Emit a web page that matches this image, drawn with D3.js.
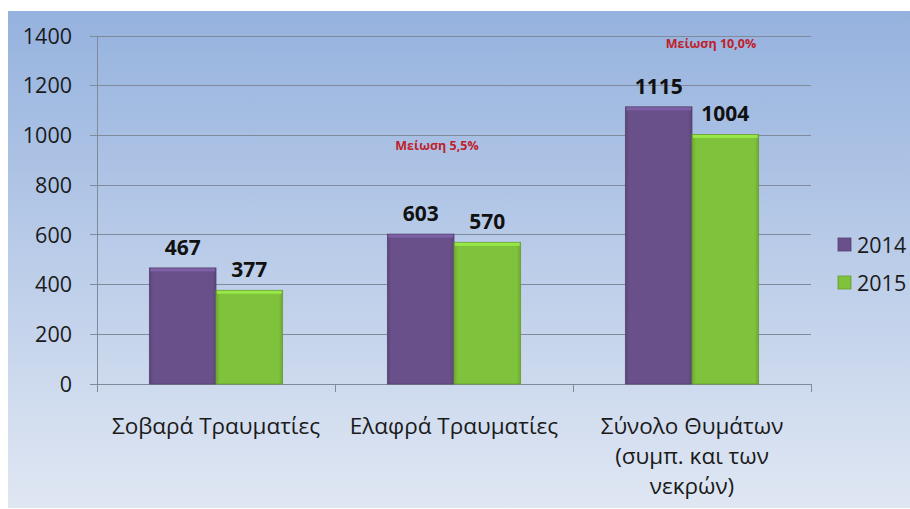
<!DOCTYPE html>
<html lang="el">
<head>
<meta charset="UTF-8">
<title>Τραυματίες 2014-2015</title>
<script src="https://d3js.org/d3.v7.min.js"></script>
<style>
  body { margin: 0; background: #fff; font-family: "Open Sans", "Noto Sans", sans-serif; }
</style>
</head>
<body>
<div id="chart"></div>
<script>
const categories = [["Σοβαρά Τραυματίες"], ["Ελαφρά Τραυματίες"], ["Σύνολο Θυμάτων", "(συμπ. και των", "νεκρών)"]];
const years = ["2014", "2015"];
const values2014 = [467, 603, 1115];
const values2015 = [377, 570, 1004];
const notes = [null, "Μείωση 5,5%", "Μείωση 10,0%"];
const noteValues = [null, 940, 1350];
const noteShift = [0, -17, 19];
const yTicks = [0, 200, 400, 600, 800, 1000, 1200, 1400];

const W = 910, H = 509;
const m = { left: 97, right: 811, top: 36, bottom: 384 };
const colors = ["#69508a", "#7fc23c"];

const svg = d3.select("#chart").append("svg").attr("width", W).attr("height", H);
const defs = svg.append("defs");

const bg = defs.append("linearGradient").attr("id", "bg").attr("x1", 0).attr("y1", 0).attr("x2", 0).attr("y2", 1);
bg.append("stop").attr("offset", "0%").attr("stop-color", "#95b2de");
bg.append("stop").attr("offset", "100%").attr("stop-color", "#e0e7f3");

// bar gradients, a little darker at the edges
colors.forEach((c, i) => {
  const g = defs.append("linearGradient").attr("id", "bar" + i).attr("x1", 0).attr("y1", 0).attr("x2", 1).attr("y2", 0);
  g.append("stop").attr("offset", "0%").attr("stop-color", d3.color(c).darker(0.4));
  g.append("stop").attr("offset", "6%").attr("stop-color", c);
  g.append("stop").attr("offset", "94%").attr("stop-color", c);
  g.append("stop").attr("offset", "100%").attr("stop-color", d3.color(c).darker(0.4));
});

svg.append("rect").attr("x", 8).attr("y", 11).attr("width", W - 8).attr("height", H - 12).attr("fill", "url(#bg)");

const y = d3.scaleLinear().domain([0, 1400]).range([m.bottom, m.top]);
const x = d3.scaleBand().domain(d3.range(categories.length)).range([m.left, m.right]).paddingInner(0).paddingOuter(0);
const bandPad = 0.22;
const xs = d3.scaleBand().domain([0, 1]).range([x.bandwidth() * bandPad, x.bandwidth() * (1 - bandPad)]);

// gridlines
svg.append("g").selectAll("line").data(yTicks).join("line")
  .attr("x1", m.left - 7).attr("x2", m.right)
  .attr("y1", d => y(d)).attr("y2", d => y(d))
  .attr("stroke", "#7f8a9c").attr("stroke-width", 1).attr("shape-rendering", "crispEdges");

// y axis line
svg.append("line").attr("x1", m.left).attr("x2", m.left).attr("y1", m.top).attr("y2", m.bottom + 8)
  .attr("stroke", "#7f8a9c").attr("shape-rendering", "crispEdges");

// category separators
svg.append("g").selectAll("line").data(d3.range(1, categories.length + 1)).join("line")
  .attr("x1", d => m.left + d * x.bandwidth()).attr("x2", d => m.left + d * x.bandwidth())
  .attr("y1", m.bottom).attr("y2", m.bottom + 8)
  .attr("stroke", "#7f8a9c").attr("shape-rendering", "crispEdges");

// y tick labels
svg.append("g").selectAll("text").data(yTicks).join("text")
  .attr("x", 72).attr("y", d => y(d)).attr("dy", "0.36em")
  .attr("text-anchor", "end").attr("font-size", 21.5).attr("fill", "#1a1a1a")
  .text(d => d);

// bars
const series = [values2014, values2015];
series.forEach((vals, si) => {
  const g = svg.append("g");
  g.selectAll("rect.bar").data(vals).join("rect").attr("class", "bar")
    .attr("x", (d, i) => x(i) + xs(si))
    .attr("y", d => y(d))
    .attr("width", xs.bandwidth())
    .attr("height", d => y(0) - y(d))
    .attr("fill", "url(#bar" + si + ")")
    .attr("stroke", d3.color(colors[si]).darker(0.6)).attr("stroke-width", 0.8);
  // light strip along the top of each bar
  g.selectAll("rect.top").data(vals).join("rect").attr("class", "top")
    .attr("x", (d, i) => x(i) + xs(si) + 1)
    .attr("y", d => y(d) + 0.5)
    .attr("width", xs.bandwidth() - 2)
    .attr("height", 3)
    .attr("fill", d3.color(colors[si]).brighter(0.5));
  g.selectAll("text").data(vals).join("text")
    .attr("x", (d, i) => x(i) + xs(si) + xs.bandwidth() / 2)
    .attr("y", d => y(d) - 13)
    .attr("text-anchor", "middle").attr("font-size", 21).attr("font-weight", "bold").attr("fill", "#111")
    .text(d => d);
});

// category labels
categories.forEach((lines, i) => {
  const cx = x(i) + x.bandwidth() / 2;
  const t = svg.append("text").attr("x", cx).attr("y", 434)
    .attr("text-anchor", "middle").attr("font-size", 22.5).attr("fill", "#1a1a1a");
  lines.forEach((l, j) => t.append("tspan").attr("x", cx).attr("dy", j ? 30 : 0).text(l));
});

// notes
notes.forEach((n, i) => {
  if (!n) return;
  svg.append("text").attr("x", x(i) + x.bandwidth() / 2 + noteShift[i]).attr("y", y(noteValues[i]))
    .attr("text-anchor", "middle").attr("font-size", 12.5).attr("font-weight", "bold").attr("fill", "#c0202a")
    .text(n);
});

// legend
years.forEach((yr, i) => {
  const ly = 245 + i * 38;
  svg.append("rect").attr("x", 838).attr("y", ly - 7).attr("width", 13).attr("height", 13)
    .attr("fill", "url(#bar" + i + ")").attr("stroke", d3.color(colors[i]).darker(0.6)).attr("stroke-width", 0.8);
  svg.append("text").attr("x", 857).attr("y", ly).attr("dy", "0.36em")
    .attr("font-size", 21.5).attr("fill", "#1a1a1a").text(yr);
});
</script>
</body>
</html>
